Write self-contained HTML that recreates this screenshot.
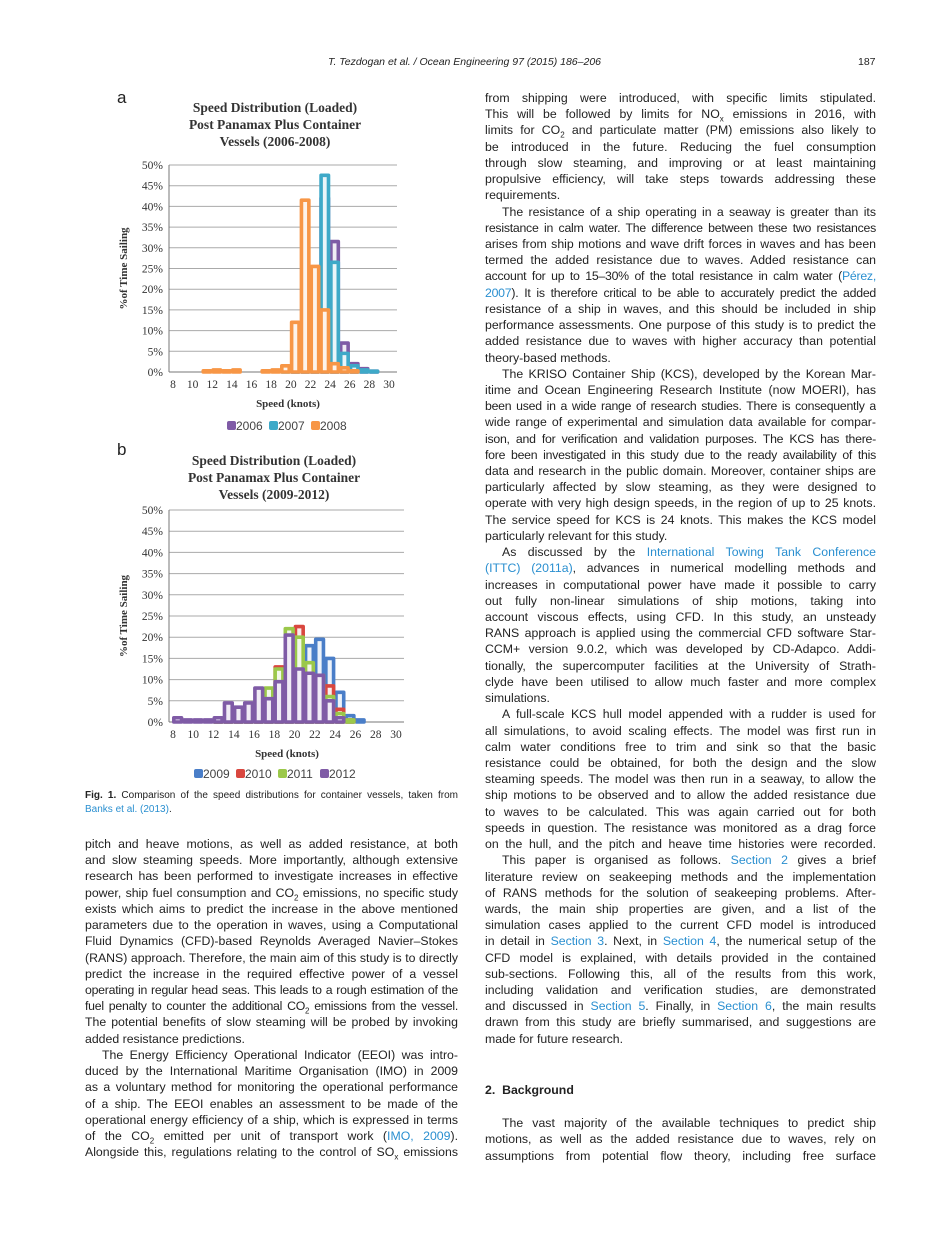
<!DOCTYPE html>
<html><head><meta charset="utf-8">
<style>
body{margin:0;background:#fff;}
#page{position:relative;width:925px;height:1234px;overflow:hidden;background:#fff;font-family:"Liberation Sans",sans-serif;color:#222;}
.col{position:absolute;font-size:12.3px;line-height:16.22px;}
.col div{white-space:nowrap;height:16.22px;}
.col div.j{text-align:justify;text-align-last:justify;white-space:normal;overflow:hidden;}
.col div.t{letter-spacing:-0.25px;word-spacing:-0.5px;}
.ind{padding-left:17px;}
a,.lk{color:#2a8fd0;text-decoration:none;}
sub{font-size:8px;line-height:0;}
.hdr{position:absolute;top:56px;font-size:10.5px;font-style:italic;}
.cap{position:absolute;left:85px;width:373px;font-size:10px;line-height:14px;}
svg text{font-family:"Liberation Serif",serif;}
</style></head><body>
<div id="page">
<div class="hdr" style="left:328px;">T. Tezdogan et al. / Ocean Engineering 97 (2015) 186–206</div>
<div class="hdr" style="left:858px;font-style:normal;">187</div>

<svg id="charts" width="925" height="1234" style="position:absolute;left:0;top:0;"></svg>

<div class="cap" style="top:789px;">
<div style="text-align:justify;text-align-last:justify;"><b>Fig. 1.</b> Comparison of the speed distributions for container vessels, taken from</div>
<div><span class="lk">Banks et al. (2013)</span>.</div></div>

<div class="col" style="left:85px;top:836px;width:373px;">
<div class="j">pitch and heave motions, as well as added resistance, at both design</div>
<div class="j">and slow steaming speeds. More importantly, although extensive</div>
<div class="j">research has been performed to investigate increases in effective</div>
<div class="j">power, ship fuel consumption and CO<sub>2</sub> emissions, no specific study</div>
<div class="j">exists which aims to predict the increase in the above mentioned</div>
<div class="j">parameters due to the operation in waves, using a Computational</div>
<div class="j">Fluid Dynamics (CFD)-based Reynolds Averaged Navier–Stokes</div>
<div class="j">(RANS) approach. Therefore, the main aim of this study is to directly</div>
<div class="j">predict the increase in the required effective power of a vessel</div>
<div class="j t">operating in regular head seas. This leads to a rough estimation of the</div>
<div class="j t">fuel penalty to counter the additional CO<sub>2</sub> emissions from the vessel.</div>
<div class="j">The potential benefits of slow steaming will be probed by invoking</div>
<div>added resistance predictions.</div>
<div class="j ind">The Energy Efficiency Operational Indicator (EEOI) was intro-</div>
<div class="j">duced by the International Maritime Organisation (IMO) in 2009</div>
<div class="j">as a voluntary method for monitoring the operational performance</div>
<div class="j">of a ship. The EEOI enables an assessment to be made of the</div>
<div class="j">operational energy efficiency of a ship, which is expressed in terms</div>
<div class="j">of the CO<sub>2</sub> emitted per unit of transport work (<span class="lk">IMO, 2009</span>).</div>
<div class="j">Alongside this, regulations relating to the control of SO<sub>x</sub> emissions</div>
</div>

<div class="col" style="left:485px;top:90px;width:391px;">
<div class="j">from shipping were introduced, with specific limits stipulated.</div>
<div class="j">This will be followed by limits for NO<sub>x</sub> emissions in 2016, with</div>
<div class="j">limits for CO<sub>2</sub> and particulate matter (PM) emissions also likely to</div>
<div class="j">be introduced in the future. Reducing the fuel consumption</div>
<div class="j">through slow steaming, and improving or at least maintaining</div>
<div class="j">propulsive efficiency, will take steps towards addressing these</div>
<div>requirements.</div>
<div class="j ind">The resistance of a ship operating in a seaway is greater than its</div>
<div class="j t">resistance in calm water. The difference between these two resistances</div>
<div class="j">arises from ship motions and wave drift forces in waves and has been</div>
<div class="j">termed the added resistance due to waves. Added resistance can</div>
<div class="j t">account for up to 15–30% of the total resistance in calm water (<span class="lk">Pérez,</span></div>
<div class="j t"><span class="lk">2007</span>). It is therefore critical to be able to accurately predict the added</div>
<div class="j">resistance of a ship in waves, and this should be included in ship</div>
<div class="j">performance assessments. One purpose of this study is to predict the</div>
<div class="j">added resistance due to waves with higher accuracy than potential</div>
<div>theory-based methods.</div>
<div class="j ind">The KRISO Container Ship (KCS), developed by the Korean Mar-</div>
<div class="j">itime and Ocean Engineering Research Institute (now MOERI), has</div>
<div class="j t">been used in a wide range of research studies. There is consequently a</div>
<div class="j">wide range of experimental and simulation data available for compar-</div>
<div class="j t">ison, and for verification and validation purposes. The KCS has there-</div>
<div class="j t">fore been investigated in this study due to the ready availability of this</div>
<div class="j">data and research in the public domain. Moreover, container ships are</div>
<div class="j">particularly affected by slow steaming, as they were designed to</div>
<div class="j">operate with very high design speeds, in the region of up to 25 knots.</div>
<div class="j">The service speed for KCS is 24 knots. This makes the KCS model</div>
<div>particularly relevant for this study.</div>
<div class="j ind">As discussed by the <span class="lk">International Towing Tank Conference</span></div>
<div class="j"><span class="lk">(ITTC) (2011a)</span>, advances in numerical modelling methods and</div>
<div class="j">increases in computational power have made it possible to carry</div>
<div class="j">out fully non-linear simulations of ship motions, taking into</div>
<div class="j">account viscous effects, using CFD. In this study, an unsteady</div>
<div class="j">RANS approach is applied using the commercial CFD software Star-</div>
<div class="j">CCM+ version 9.0.2, which was developed by CD-Adapco. Addi-</div>
<div class="j">tionally, the supercomputer facilities at the University of Strath-</div>
<div class="j">clyde have been utilised to allow much faster and more complex</div>
<div>simulations.</div>
<div class="j ind">A full-scale KCS hull model appended with a rudder is used for</div>
<div class="j">all simulations, to avoid scaling effects. The model was first run in</div>
<div class="j">calm water conditions free to trim and sink so that the basic</div>
<div class="j">resistance could be obtained, for both the design and the slow</div>
<div class="j">steaming speeds. The model was then run in a seaway, to allow the</div>
<div class="j">ship motions to be observed and to allow the added resistance due</div>
<div class="j">to waves to be calculated. This was again carried out for both</div>
<div class="j">speeds in question. The resistance was monitored as a drag force</div>
<div class="j">on the hull, and the pitch and heave time histories were recorded.</div>
<div class="j ind">This paper is organised as follows. <span class="lk">Section 2</span> gives a brief</div>
<div class="j">literature review on seakeeping methods and the implementation</div>
<div class="j">of RANS methods for the solution of seakeeping problems. After-</div>
<div class="j">wards, the main ship properties are given, and a list of the</div>
<div class="j">simulation cases applied to the current CFD model is introduced</div>
<div class="j">in detail in <span class="lk">Section 3</span>. Next, in <span class="lk">Section 4</span>, the numerical setup of the</div>
<div class="j">CFD model is explained, with details provided in the contained</div>
<div class="j">sub-sections. Following this, all of the results from this work,</div>
<div class="j">including validation and verification studies, are demonstrated</div>
<div class="j">and discussed in <span class="lk">Section 5</span>. Finally, in <span class="lk">Section 6</span>, the main results</div>
<div class="j">drawn from this study are briefly summarised, and suggestions are</div>
<div>made for future research.</div>
<div style="height:35px"></div>
<div style="font-weight:bold;">2.&nbsp;&nbsp;Background</div>
<div style="height:17px"></div>
<div class="j ind">The vast majority of the available techniques to predict ship</div>
<div class="j">motions, as well as the added resistance due to waves, rely on</div>
<div class="j">assumptions from potential flow theory, including free surface</div>
</div>
</div>
<script>
// ---- Chart a data (2006-2008) ----
const speedsA = [8,9,10,11,12,13,14,15,16,17,18,19,20,21,22,23,24,25,26,27,28,29];
const s2006 = [0,0,0,0,0,0,0,0,0,0,0,0,0.5,0.5,14.5,42,31.5,7,2,0.8,0.2,0];
const s2007 = [0,0,0,0,0,0,0,0,0,0,0,0.5,1,3.5,16,47.5,26.5,4.5,1.5,0.5,0.2,0];
const s2008 = [0,0,0,0.3,0.5,0.3,0.5,0,0,0.3,0.5,1.5,12,41.5,25.5,15,2,1,0.3,0,0,0];
// ---- Chart b data (2009-2012) ----
const speedsB = [8,9,10,11,12,13,14,15,16,17,18,19,20,21,22,23,24,25,26,27,28,29];
const s2009 = [0,0,0,0,0.3,0.5,0.5,0.5,1,5,9,20,16,18,19.5,15,7,1.5,0.5,0,0,0];
const s2010 = [0,0,0,0,0.3,0.5,1,0.5,2,7.5,13,21.5,22.5,13,11,8.5,3,0.5,0,0,0,0];
const s2011 = [0,0,0,0,0.3,0.5,1,0.5,1.5,8,12.5,22,20,14,11,6,2,0.5,0,0,0,0];
const s2012 = [1,0.5,0.5,0.5,1,4.5,3.5,4.5,8,5.5,9.5,20.5,12.5,11.5,11,5,1,0,0,0,0,0];
const xTicks = [8,10,12,14,16,18,20,22,24,26,28,30];
const yTicks = [0,5,10,15,20,25,30,35,40,45,50];

const NS='http://www.w3.org/2000/svg';
const svg=document.getElementById('charts');
function mk(tag,attrs,parent){const e=document.createElementNS(NS,tag);for(const k in attrs)e.setAttribute(k,attrs[k]);(parent||svg).appendChild(e);return e;}

function drawChart(cfg){
  const g=mk('g',{});
  
  
  const X=v=>cfg.x0+(v-8)*(cfg.x1-cfg.x0)/22;
  const Y=v=>cfg.y0-v*(cfg.y0-cfg.y50)/50;
  const L=mk('text',{x:117,y:cfg.letterY,'font-size':17,fill:'#222',style:'font-family:"Liberation Sans",sans-serif'},g);
  L.textContent=cfg.letter;
  
  
  cfg.title.forEach((t,i)=>{
    const e=mk('text',{x:cfg.titleX,y:cfg.titleY+i*17,'font-size':13.5,'font-weight':'bold','text-anchor':'middle',fill:'#333'},g);
    e.textContent=t;
    
    
  });
  yTicks.forEach(v=>{
    const l=mk('line',{x1:cfg.x0-4,x2:cfg.x1+8,y1:Y(v),y2:Y(v),stroke:v===0?'#777':'#aaa','stroke-width':1},g);
    
    
    const t=mk('text',{x:cfg.x0-10,y:Y(v)+4,'font-size':11.5,'text-anchor':'end',fill:'#333'},g);
    t.textContent=v+'%';
    
    
  });
  const ax=mk('line',{x1:cfg.x0-4,x2:cfg.x0-4,y1:Y(50),y2:Y(0),stroke:'#777'},g);
  
  
  xTicks.forEach(v=>{
    const t=mk('text',{x:X(v),y:cfg.y0+16,'font-size':11.5,'text-anchor':'middle',fill:'#333'},g);
    t.textContent=v;
    
    
  });
  const yt=mk('text',{x:0,y:0,'font-size':11,'font-weight':'bold','text-anchor':'middle',fill:'#333',transform:`translate(127,${(Y(0)+Y(50))/2}) rotate(-90)`},g);
  yt.textContent='%of Time Sailing';
  
  
  const xt=mk('text',{x:cfg.xTitleX,y:cfg.y0+35,'font-size':11,'font-weight':'bold','text-anchor':'middle',fill:'#333'},g);
  xt.textContent='Speed (knots)';
  
  
  cfg.series.forEach(s=>{
    s.vals.forEach((v,i)=>{
      if(v<=0)return;
      const k=cfg.speeds[i];
      const r=mk('rect',{x:X(k)+0.8,y:Y(v),width:X(k+1)-X(k)-2.4,height:Y(0)-Y(v),fill:s.fill,stroke:s.color,'stroke-width':3.6,'stroke-linejoin':'round'},g);
      
      
    });
  });
  cfg.series.forEach((s,i)=>{
    const lx=cfg.legX+i*cfg.legStep;
    const sq=mk('rect',{x:lx,y:cfg.legY-9,width:9,height:9,rx:2,fill:s.color},g);
    
    
    const t=mk('text',{x:lx+9,y:cfg.legY,'font-size':12,fill:'#444',style:'font-family:"Liberation Sans",sans-serif'},g);
    t.textContent=s.label;
    
    
  });
}
drawChart({name:'chart-a',letter:'a',letterY:103,title:['Speed Distribution (Loaded)','Post Panamax Plus Container','Vessels (2006-2008)'],titleX:275,titleY:112,
  x0:173,x1:389,y0:372,y50:165,speeds:speedsA,xTitleX:288,legX:227,legStep:42,legY:430,
  series:[{label:'2006',vals:s2006,color:'#7f5ba6',fill:'#f1ecf5'},{label:'2007',vals:s2007,color:'#3ea9c8',fill:'#eaf5f9'},{label:'2008',vals:s2008,color:'#f79646',fill:'#fdf3ea'}]});
drawChart({name:'chart-b',letter:'b',letterY:455,title:['Speed Distribution (Loaded)','Post Panamax Plus Container','Vessels (2009-2012)'],titleX:274,titleY:465,
  x0:173,x1:396,y0:722,y50:510,speeds:speedsB,xTitleX:287,legX:194,legStep:42,legY:778,
  series:[{label:'2009',vals:s2009,color:'#4a7ec8',fill:'#eef3fa'},{label:'2010',vals:s2010,color:'#d9473f',fill:'#faecec'},{label:'2011',vals:s2011,color:'#9bc84a',fill:'#f3f8ea'},{label:'2012',vals:s2012,color:'#7f5ba6',fill:'#f1ecf6'}]});
</script>
</body></html>
